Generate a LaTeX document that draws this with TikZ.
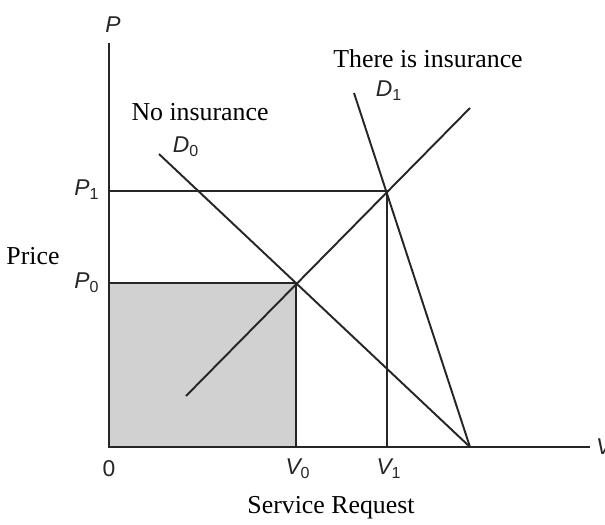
\documentclass[tikz,border=0pt]{standalone}
\usepackage{fontspec}
\setmainfont{Liberation Serif}
\setsansfont{Liberation Sans}
\usetikzlibrary{positioning}

\begin{document}
\begin{tikzpicture}[
    x=0.02cm, y=-0.02cm,
    axis/.style={draw=black!85, line width=1.1pt},
    curve/.style={draw=black!85, line width=1.1pt},
    guide/.style={draw=black!85, line width=1pt},
    sym/.style={font=\sffamily\itshape\fontsize{13}{15}\selectfont, text=black!85, inner sep=1pt},
    note/.style={font=\fontsize{14.7}{17}\selectfont, inner sep=0pt}
]
\useasboundingbox (0,0) rectangle (605,524);

\coordinate (o) at (109,447);
\coordinate (ptop) at (109,43);
\coordinate (vend) at (590,447);
\coordinate (e0) at (296,283);
\coordinate (e1) at (387,191);
\coordinate (p0) at (109,283);
\coordinate (p1) at (109,191);
\coordinate (v0) at (296,447);
\coordinate (v1) at (387,447);
\coordinate (dzero) at (159,154);
\coordinate (done) at (354,93);
\coordinate (dend) at (470,447);
\coordinate (slo) at (186,396);
\coordinate (shi) at (470,108);

\fill[black!18] (o) rectangle (e0);
\draw[guide] (p0) -- (e0) -- (v0);
\draw[guide] (p1) -- (e1) -- (v1);
\draw[curve] (dzero) -- (dend);
\draw[curve] (done) -- (dend);
\draw[curve] (slo) -- (shi);
\draw[axis] (ptop) -- (o) -- (vend);

\node[sym] (plab) at (113,25) {P};
\node[sym] (ponelab) at (87,190) {P\textsubscript{\upshape 1}};
\node[sym] (pzerolab) at (87,283) {P\textsubscript{\upshape 0}};
\node[sym] (olab) at (109,469) {\upshape 0};
\node[sym] (vzerolab) at (298,469) {V\textsubscript{\upshape 0}};
\node[sym] (vonelab) at (389,469) {V\textsubscript{\upshape 1}};
\node[sym, anchor=west] (vlab) at (594,447) {V};
\node[sym] (dzerolab) at (186,147) {D\textsubscript{\upshape 0}};
\node[sym] (donelab) at (389,91) {D\textsubscript{\upshape 1}};

\node[note] (noins) at (200,112) {No insurance};
\node[note] (ins) at (428,59) {There is insurance};
\node[note] (price) at (33,256) {Price};
\node[note] (service) at (331,508) {Service Request};
\end{tikzpicture}
\end{document}
